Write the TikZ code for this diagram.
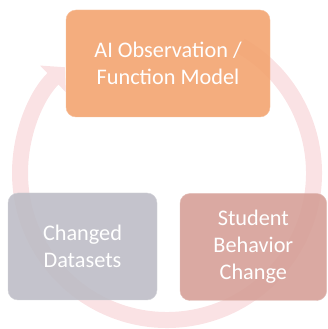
\documentclass[tikz,border=0pt]{standalone}
\usepackage{fontspec}
\setmainfont{Carlito}
\usetikzlibrary{arrows.meta}

\definecolor{obsorange}{RGB}{243,164,112}
\definecolor{datagray}{RGB}{190,189,198}
\definecolor{studrose}{RGB}{214,160,152}
\definecolor{ringpink}{RGB}{250,226,228}

\tikzset{
  stage/.style={rounded corners=0.3cm, minimum height=3.21cm, align=center,
    text=white, font=\fontsize{19}{23}\selectfont, fill opacity=0.9, text opacity=1},
}

\begin{document}
\begin{tikzpicture}

\useasboundingbox (0,0) rectangle (9.81,9.87);
\clip (0,0) rectangle (9.81,9.87);

%the circular arrow behind the boxes
\draw[ringpink, line width=0.48cm, -{Triangle[length=0.5cm, width=1.08cm]}]
  (5.01,4.68) ++(60:4.41) arc[start angle=60, end angle=-226, radius=4.41];

%the three stages
\node[stage, fill=obsorange, draw=obsorange!70!white, minimum width=6.12cm] (obs) at (5.04,7.965) {AI Observation /\\Function Model};
\node[stage, fill=datagray, draw=datagray!70!white, minimum width=4.47cm] (data) at (2.475,2.475) {Changed\\Datasets};
\node[stage, fill=studrose, draw=studrose!70!white, minimum width=4.40cm] (stud) at (7.60,2.46) {Student\\Behavior\\Change};

\end{tikzpicture}
\end{document}
